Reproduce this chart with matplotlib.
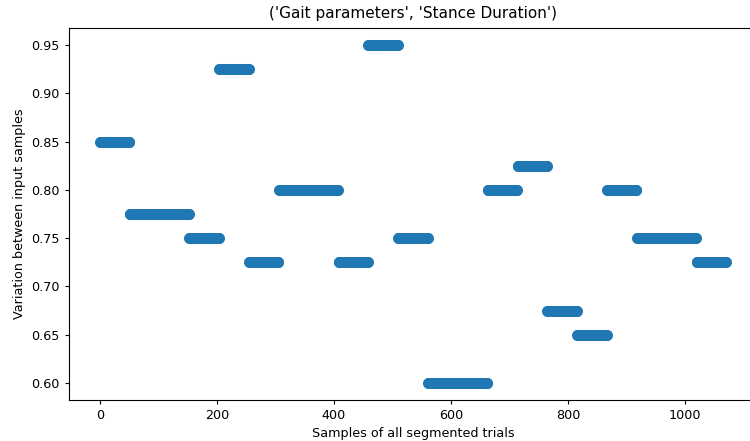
import numpy as np
import matplotlib
matplotlib.use("Agg")
import matplotlib.pyplot as plt

# Stance duration variation per segmented trial
trial_values = [0.85, 0.775, 0.775, 0.75, 0.925, 0.725, 0.80, 0.80, 0.725, 0.95,
                0.75, 0.60, 0.60, 0.80, 0.825, 0.675, 0.65, 0.80, 0.75, 0.75, 0.725]
samples_per_trial = 51

y = np.repeat(trial_values, samples_per_trial)
x = np.arange(len(y))

fig = plt.figure(figsize=(7.5, 4.41), dpi=100)
ax = fig.add_axes([0.0916, 0.093, 0.918, 0.8435])
ax.scatter(x, y, s=48, color="#1f77b4")
ax.set_title("('Gait parameters', 'Stance Duration')", fontsize=11, pad=7.5)
ax.set_xlabel("Samples of all segmented trials", fontsize=9.2, labelpad=3.5)
ax.set_ylabel("Variation between input samples", fontsize=9.2, labelpad=3.5)
ax.tick_params(labelsize=9.2, length=3.2)
fig.savefig("out.png", dpi=100)
